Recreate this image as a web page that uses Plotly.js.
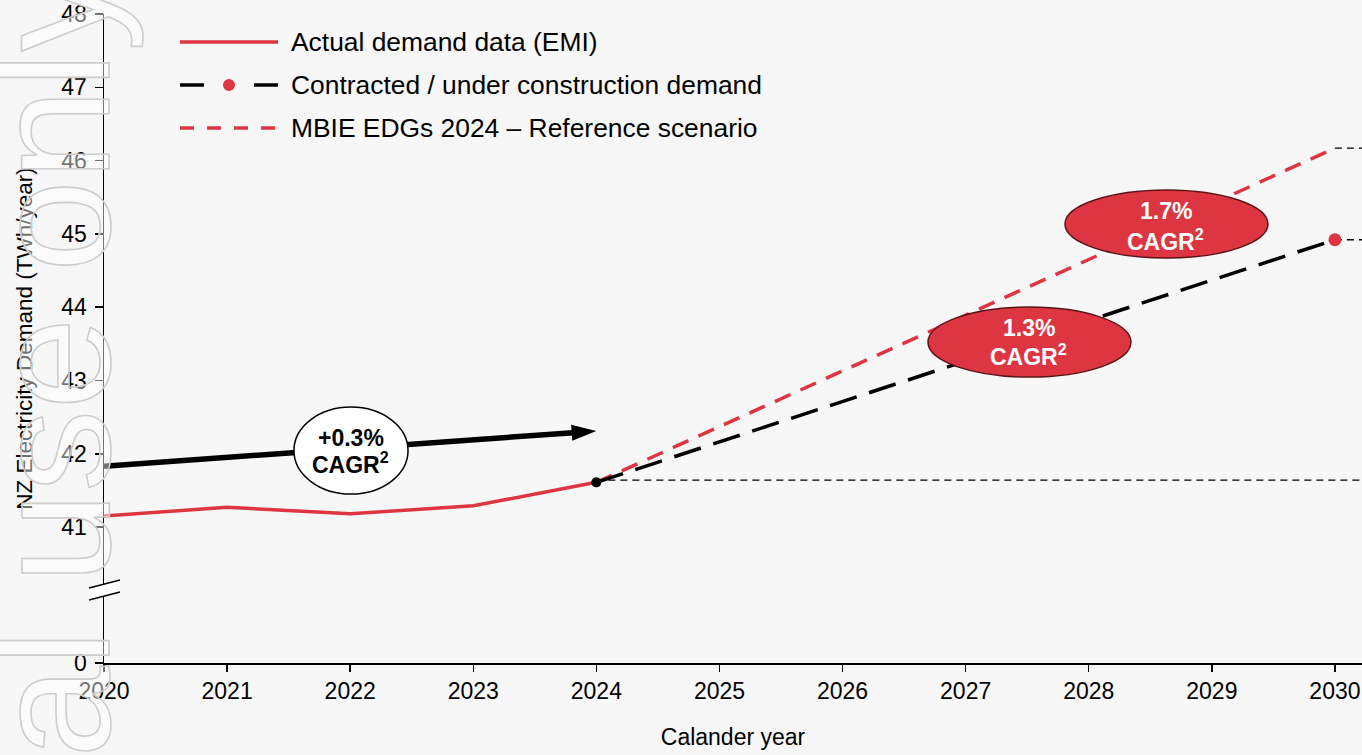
<!DOCTYPE html>
<html>
<head>
<meta charset="utf-8">
<script src="https://cdn.plot.ly/plotly-3.0.1.min.js"></script>
<style>
  html, body { margin: 0; padding: 0; background: #f7f7f7; }
  #chart { width: 1362px; height: 755px; }
</style>
</head>
<body>
<div id="chart"></div>
<script>
// ---------------- data ----------------
const actualYears = [2020, 2021, 2022, 2023, 2024];
const actualDemand = [41.15, 41.27, 41.18, 41.29, 41.61];

const projYears = [2024, 2030];
const contractedDemand = [41.61, 44.92];
const mbieDemand = [41.61, 46.17];

const flatYears2024 = [2024, 2030.22];
const flatLevel2024 = [41.64, 41.64];
const flatYears2030 = [2030, 2030.22];
const flatContracted2030 = [44.92, 44.92];
const flatMbie2030 = [46.17, 46.17];

const trendYears = [2020, 2024];
const trendValues = [41.83, 42.31];

const cagrPct = ['+0.3%', '1.3%', '1.7%'];
const cagrSub = ['CAGR<sup>2</sup>', 'CAGR<sup>2</sup>', 'CAGR<sup>2</sup>'];

const xTickVals = [2020, 2021, 2022, 2023, 2024, 2025, 2026, 2027, 2028, 2029, 2030];
const yTickLabels = ['0', '41', '42', '43', '44', '45', '46', '47', '48'];
const yTickValues = [0, 41, 42, 43, 44, 45, 46, 47, 48];

const legendNames = ['Actual demand data (EMI)', 'Contracted / under construction demand', 'MBIE EDGs 2024 \u2013 Reference scenario'];

// ---------------- layout helpers ----------------
const RED = '#de3542';
const FONT = 'Liberation Sans, Arial, sans-serif';
const axisFloor = 39.145;            // where the broken axis shows "0"
const yPos = yTickValues.map(v => v === 0 ? axisFloor : v);

const traces = [
  { x: flatYears2024, y: flatLevel2024, mode: 'lines', line: { color: '#000', width: 1.3, dash: '7px,5px' }, hoverinfo: 'skip', showlegend: false },
  { x: flatYears2030, y: flatContracted2030, mode: 'lines', line: { color: '#000', width: 1.3, dash: '7px,5px' }, hoverinfo: 'skip', showlegend: false },
  { x: flatYears2030, y: flatMbie2030, mode: 'lines', line: { color: '#000', width: 1.3, dash: '7px,5px' }, hoverinfo: 'skip', showlegend: false },
  { x: actualYears, y: actualDemand, mode: 'lines', name: legendNames[0], line: { color: RED, width: 3.5 }, showlegend: false },
  { x: projYears, y: mbieDemand, mode: 'lines', name: legendNames[2], line: { color: RED, width: 3.5, dash: '17px,11px' }, showlegend: false },
  { x: projYears, y: contractedDemand, mode: 'lines+markers', name: legendNames[1],
    line: { color: '#000', width: 3.5, dash: '28px,13px' },
    marker: { color: ['#000', RED], size: [10, 13], opacity: 1, line: { width: 0 } }, showlegend: false },
  { x: trendYears, y: trendValues, mode: 'lines+markers', line: { color: '#000', width: 5.5 },
    marker: { symbol: 'arrow', angleref: 'previous', size: [0, 26], color: '#000', opacity: 1, line: { width: 0 } },
    hoverinfo: 'skip', showlegend: false }
];

// plot-area pixel helpers (paper coords)
const L = 104, T = 14, W = 1258, H = 649;
const px = x => (x - L) / W;
const py = y => (T + H - y) / H;

const legendRows = [42, 85, 128];
const shapes = [
  // axis break: white gap + two slanted strokes
  { type: 'path', xref: 'paper', yref: 'paper', layer: 'above',
    path: 'M' + px(89) + ',' + py(588) + ' L' + px(120) + ',' + py(580) + ' L' + px(120) + ',' + py(592) + ' L' + px(89) + ',' + py(600) + ' Z',
    fillcolor: '#ffffff', line: { width: 0 } },
  { type: 'line', xref: 'paper', yref: 'paper', layer: 'above', x0: px(89), y0: py(588), x1: px(120), y1: py(580), line: { color: '#000', width: 1.5 } },
  { type: 'line', xref: 'paper', yref: 'paper', layer: 'above', x0: px(89), y0: py(600), x1: px(120), y1: py(592), line: { color: '#000', width: 1.5 } },
  // ellipses
  { type: 'circle', xref: 'x', yref: 'y', layer: 'above', x0: 2021.543, x1: 2022.47, y0: 41.45, y1: 42.637,
    fillcolor: '#ffffff', line: { color: '#000', width: 1.5 } },
  { type: 'circle', xref: 'x', yref: 'y', layer: 'above', x0: 2026.694, x1: 2028.343, y0: 43.046, y1: 44.001,
    fillcolor: RED, line: { color: '#5a1418', width: 1.5 } },
  { type: 'circle', xref: 'x', yref: 'y', layer: 'above', x0: 2027.807, x1: 2029.456, y0: 44.67, y1: 45.598,
    fillcolor: RED, line: { color: '#5a1418', width: 1.5 } },
  // legend samples
  { type: 'line', xref: 'paper', yref: 'paper', x0: px(180), x1: px(278), y0: py(legendRows[0]), y1: py(legendRows[0]), line: { color: RED, width: 3.5 } },
  { type: 'line', xref: 'paper', yref: 'paper', x0: px(180), x1: px(204), y0: py(legendRows[1]), y1: py(legendRows[1]), line: { color: '#000', width: 3.5 } },
  { type: 'line', xref: 'paper', yref: 'paper', x0: px(254), x1: px(278), y0: py(legendRows[1]), y1: py(legendRows[1]), line: { color: '#000', width: 3.5 } },
  { type: 'circle', xref: 'paper', yref: 'paper', xsizemode: 'pixel', ysizemode: 'pixel',
    xanchor: px(229), yanchor: py(legendRows[1]), x0: -6, x1: 6, y0: -6, y1: 6,
    fillcolor: RED, line: { width: 0 } },
  { type: 'line', xref: 'paper', yref: 'paper', x0: px(180), x1: px(278), y0: py(legendRows[2]), y1: py(legendRows[2]), line: { color: RED, width: 3.5, dash: '14px,13px' } }
];

const ellipseCenters = [[2022.006, 42.214, 41.873, '#000'], [2027.514, 43.715, 43.347, '#fff'], [2028.627, 45.311, 44.915, '#fff']];
const annotations = [];
ellipseCenters.forEach((c, i) => {
  annotations.push({ x: c[0], y: c[1], xref: 'x', yref: 'y', text: '<b>' + cagrPct[i] + '</b>', showarrow: false,
    font: { family: FONT, size: 23, color: c[3] } });
  annotations.push({ x: c[0], y: c[2], xref: 'x', yref: 'y', text: '<b>' + cagrSub[i] + '</b>', showarrow: false,
    font: { family: FONT, size: 23, color: c[3] } });
});
legendRows.forEach((r, i) => {
  annotations.push({ x: px(289), y: py(r), xref: 'paper', yref: 'paper', xanchor: 'left', yanchor: 'middle',
    text: legendNames[i], showarrow: false, font: { family: FONT, size: 26.4, color: '#000' } });
});
// watermark
annotations.push({ x: px(52), y: py(575), xref: 'paper', yref: 'paper', xanchor: 'center', yanchor: 'middle',
  text: 'Internal use only', textangle: -90, showarrow: false, name: 'watermark',
  font: { family: FONT, size: 165, color: 'rgba(255,255,255,0.45)' } });

const layout = {
  width: 1362, height: 755,
  margin: { l: L, r: 0, t: T, b: 92 },
  paper_bgcolor: '#f7f7f7', plot_bgcolor: '#f7f7f7',
  font: { family: FONT, color: '#000' },
  showlegend: false,
  xaxis: {
    range: [2020, 2030.22], tickvals: xTickVals, ticktext: xTickVals.map(String),
    showgrid: false, zeroline: false, showline: true, linecolor: '#000', linewidth: 1.5,
    ticks: 'outside', ticklen: 7, tickwidth: 1.5, tickcolor: '#000',
    tickfont: { family: FONT, size: 23, color: '#000' },
    title: { text: 'Calander year', font: { family: FONT, size: 23, color: '#000' }, standoff: 26 }
  },
  yaxis: {
    range: [axisFloor, 48], tickvals: yPos, ticktext: yTickLabels,
    showgrid: false, zeroline: false, showline: true, linecolor: '#000', linewidth: 1.5,
    ticks: 'outside', ticklen: 8, tickwidth: 1.5, tickcolor: '#000', ticklabelstandoff: 3,
    tickfont: { family: FONT, size: 23, color: '#000' },
    title: { text: 'NZ Electricity Demand (TWh/year)', font: { family: FONT, size: 22.5, color: '#000' }, standoff: 22 }
  },
  shapes: shapes,
  annotations: annotations
};

Plotly.newPlot('chart', traces, layout, { displayModeBar: false, staticPlot: true }).then(() => {
  document.querySelectorAll('.annotation-text').forEach(t => {
    if (t.textContent.indexOf('use only') >= 0) {
      t.style.stroke = '#cdcdcd';
      t.style.strokeWidth = '1.6px';
    }
  });
});
</script>
</body>
</html>
